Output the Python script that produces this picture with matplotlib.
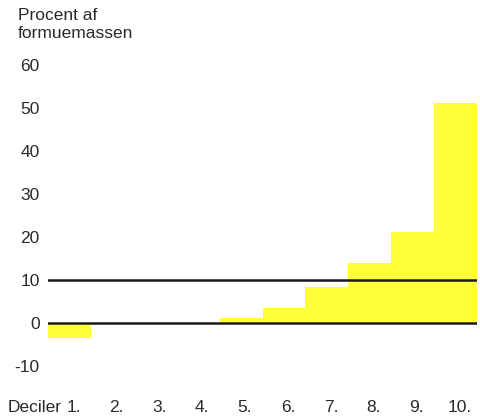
import numpy as np
import matplotlib.pyplot as plt
import matplotlib.transforms as mtransforms

plt.rcParams['font.family'] = ['Liberation Sans', 'DejaVu Sans']

# data
deciles = np.arange(1, 11)
decile_labels = ['1.', '2.', '3.', '4.', '5.', '6.', '7.', '8.', '9.', '10.']
share = [-3.5, 0.0, 0.0, 0.0, 1.2, 3.5, 8.4, 14.0, 21.2, 51.2]
y_ticks = [-10, 0, 10, 20, 30, 40, 50, 60]
ref_lines = [0, 10]

FS = 12.5
TXT = '#2a2a2a'

fig = plt.figure(figsize=(4.8, 4.18), dpi=100)
ax = fig.add_axes([0.1, 0.0864, 0.894, 0.7818])

ax.bar(deciles, share, width=1.0, color='#ffff3a', edgecolor='none', zorder=1)
for v in ref_lines:
    ax.axhline(v, color='#1a1a1a', lw=1.8, zorder=2)

ax.set_xlim(0.5, 10.5)
ax.set_ylim(-13.7, 62.3)
ax.set_yticks(y_ticks)
ax.set_yticklabels([str(t) if t >= 0 else '-' + str(-t) for t in y_ticks])
ax.set_xticks(deciles)
ax.set_xticklabels(decile_labels)
ax.tick_params(axis='both', length=0, labelsize=FS, labelcolor=TXT)
ax.tick_params(axis='y', pad=6)
ax.tick_params(axis='x', pad=13)
for s in ax.spines.values():
    s.set_visible(False)

# the decile numbers sit a little right of the bar centres in the original
shift = mtransforms.ScaledTranslation(4 / 100, 0, fig.dpi_scale_trans)
for lbl in ax.get_xticklabels():
    lbl.set_transform(lbl.get_transform() + shift)

fig.text(18 / 480, 1 - 8 / 418, 'Procent af\nformuemassen', ha='left', va='top',
         fontsize=FS, color=TXT, linespacing=1.25)
fig.text(8 / 480, 1 - 407 / 418, 'Deciler', ha='left', va='center',
         fontsize=FS, color=TXT)

fig.savefig('out.png', dpi=100)
